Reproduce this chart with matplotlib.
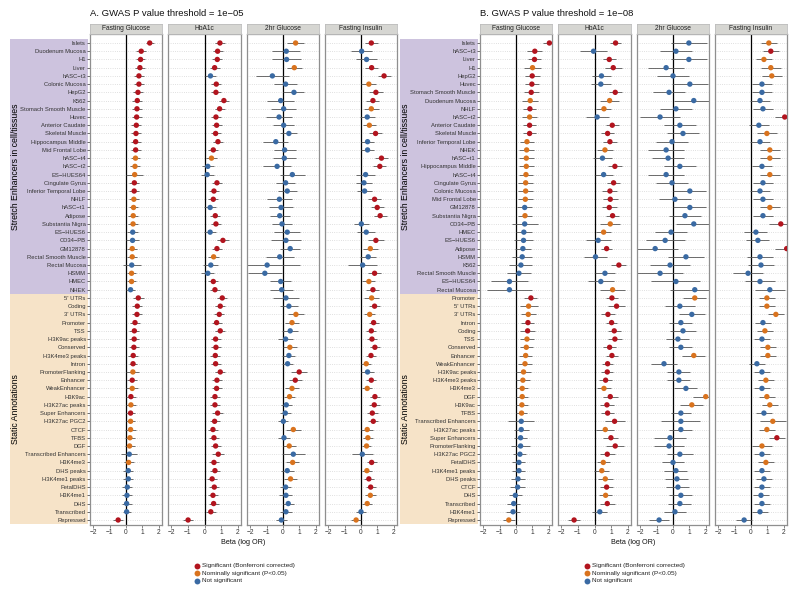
import matplotlib
matplotlib.use('Agg')
import matplotlib.pyplot as plt
import numpy as np

plt.rcParams['font.family'] = ['Liberation Sans', 'DejaVu Sans']

# ---------------- data ----------------
traits = ["Fasting Glucose", "HbA1c", "2hr Glucose", "Fasting Insulin"]
titles = ["A. GWAS P value threshold = 1e\u221205", "B. GWAS P value threshold = 1e\u221208"]
group_names = ["Stretch Enhancers in cell/tissues", "Static Annotations"]
n_stretch = 31

labels_A = ["Islets", "Duodenum Mucosa", "H1", "Liver", "hASC\u2212t3", "Colonic Mucosa", "HepG2", "K562",
            "Stomach Smooth Muscle", "Huvec", "Anterior Caudate", "Skeletal Muscle", "Hippocampus Middle",
            "Mid Frontal Lobe", "hASC\u2212t4", "hASC\u2212t2", "ES\u2212HUES64", "Cingulate Gyrus",
            "Inferior Temporal Lobe", "NHLF", "hASC\u2212t1", "Adipose", "Substantia Nigra", "ES\u2212HUES6",
            "CD34\u2212PB", "GM12878", "Rectal Smooth Muscle", "Rectal Mucosa", "HSMM", "HMEC", "NHEK",
            "5' UTRs", "Coding", "3' UTRs", "Promoter", "TSS", "H3K9ac peaks", "Conserved", "H3K4me3 peaks",
            "Intron", "PromoterFlanking", "Enhancer", "WeakEnhancer", "H3K9ac", "H3K27ac peaks",
            "Super Enhancers", "H3K27ac PGC2", "CTCF", "TFBS", "DGF", "Transcribed Enhancers", "H3K4me3",
            "DHS peaks", "H3K4me1 peaks", "FetalDHS", "H3K4me1", "DHS", "Transcribed", "Repressed"]

labels_B = ["Islets", "hASC\u2212t3", "Liver", "H1", "HepG2", "Huvec", "Stomach Smooth Muscle", "Duodenum Mucosa",
            "NHLF", "hASC\u2212t2", "Anterior Caudate", "Skeletal Muscle", "Inferior Temporal Lobe", "NHEK",
            "hASC\u2212t1", "Hippocampus Middle", "hASC\u2212t4", "Cingulate Gyrus", "Colonic Mucosa",
            "Mid Frontal Lobe", "GM12878", "Substantia Nigra", "CD34\u2212PB", "HMEC", "ES\u2212HUES6", "Adipose",
            "HSMM", "K562", "Rectal Smooth Muscle", "ES\u2212HUES64", "Rectal Mucosa",
            "Promoter", "5' UTRs", "3' UTRs", "Intron", "Coding", "TSS", "Conserved", "Enhancer", "WeakEnhancer",
            "H3K9ac peaks", "H3K4me3 peaks", "H3K4me3", "DGF", "H3K9ac", "TFBS", "Transcribed Enhancers",
            "H3K27ac peaks", "Super Enhancers", "PromoterFlanking", "H3K27ac PGC2", "FetalDHS", "H3K4me1 peaks",
            "DHS peaks", "CTCF", "DHS", "Transcribed", "H3K4me1", "Repressed"]

# Panel A -- Fasting Glucose
beta_A_fg = [1.45, 0.93, 0.89, 0.85, 0.79, 0.79, 0.73, 0.69, 0.67, 0.65, 0.63, 0.61, 0.59, 0.59, 0.58, 0.55,
             0.53, 0.51, 0.50, 0.48, 0.46, 0.44, 0.43, 0.41, 0.40, 0.38, 0.38, 0.35, 0.34, 0.34, 0.28,
             0.75, 0.69, 0.67, 0.55, 0.51, 0.50, 0.48, 0.44, 0.43, 0.42, 0.38, 0.38, 0.30, 0.30, 0.28, 0.28,
             0.28, 0.24, 0.22, 0.20, 0.16, 0.14, 0.14, 0.08, 0.06, 0.04, 0.04, -0.48]
hw_A_fg = [0.25, 0.3, 0.3, 0.3, 0.3, 0.3, 0.3, 0.3, 0.3, 0.3, 0.3, 0.3, 0.3, 0.3, 0.3, 0.3, 0.5, 0.3, 0.3, 0.3,
           0.3, 0.3, 0.3, 0.35, 0.4, 0.3, 0.3, 0.55, 0.3, 0.3, 0.3,
           0.35, 0.3, 0.3, 0.3, 0.3, 0.3, 0.3, 0.3, 0.25, 0.4, 0.3, 0.35, 0.3, 0.3, 0.3, 0.3, 0.35, 0.3, 0.3,
           0.5, 0.3, 0.3, 0.3, 0.3, 0.3, 0.3, 0.25, 0.3]
sig_A_fg = "RRRRRRRRRRRRRROOORROOOOBBOOBOOB" + "RRRRRRRRR" + "OROROR" + "OOOO" + "B" + "O" + "BBBBBB" + "R"

# Panel A -- HbA1c
beta_A_hb = [0.93, 0.79, 0.77, 0.61, 0.36, 0.71, 0.69, 1.17, 0.91, 0.69, 0.73, 0.67, 0.81, 0.53, 0.42, 0.20,
             0.16, 0.75, 0.57, 0.53, 0.34, 0.65, 0.69, 0.34, 1.11, 0.75, 0.55, 0.38, 0.20, 0.53, 0.63,
             1.07, 0.95, 0.89, 0.73, 0.95, 0.67, 0.69, 0.65, 0.67, 0.95, 0.75, 0.73, 0.63, 0.63, 0.79, 0.61,
             0.51, 0.57, 0.67, 0.83, 0.57, 0.63, 0.46, 0.59, 0.51, 0.55, 0.38, -0.99]
hw_A_hb = [0.3, 0.3, 0.3, 0.3, 0.35, 0.3, 0.3, 0.3, 0.3, 0.3, 0.3, 0.3, 0.3, 0.3, 0.35, 0.35, 0.4, 0.3, 0.3, 0.3,
           0.35, 0.3, 0.3, 0.35, 0.35, 0.3, 0.35, 0.45, 0.4, 0.3, 0.3,
           0.3, 0.3, 0.3, 0.3, 0.3, 0.3, 0.3, 0.3, 0.3, 0.3, 0.3, 0.3, 0.3, 0.3, 0.35, 0.3, 0.3, 0.3, 0.3,
           0.35, 0.3, 0.3, 0.3, 0.3, 0.3, 0.3, 0.3, 0.3]
sig_A_hb = "RRRRBRRRRRRRRROBBRRRBRRBRROBBRR" + "R" * 28

# Panel A -- 2hr Glucose
beta_A_2h = [0.77, 0.20, 0.22, 0.69, -0.65, 0.16, 0.67, -0.14, 0.04, -0.24, 0.04, 0.36, -0.44, 0.10, 0.08,
             -0.36, 0.57, 0.16, 0.26, -0.22, -0.12, -0.20, -0.06, 0.26, 0.18, 0.44, -0.20, -0.97, -1.11,
             -0.14, -0.08,
             0.18, 0.36, 0.79, 0.55, 0.44, 0.16, 0.42, 0.36, 0.28, 0.99, 0.75, 0.55, 0.40, 0.20, 0.14, 0.02,
             0.63, 0.06, 0.38, 0.63, 0.59, 0.26, 0.46, 0.16, 0.18, 0.32, 0.18, -0.10]
hw_A_2h = [0.5, 0.85, 0.9, 0.45, 1.0, 0.72, 0.64, 0.82, 0.75, 0.79, 0.64, 0.52, 0.76, 0.68, 0.7, 0.85, 0.75,
           0.58, 0.58, 0.75, 0.72, 0.62, 0.62, 0.8, 0.92, 0.62, 0.85, 2.0, 1.05, 0.65, 0.7,
           0.77, 0.55, 0.5, 0.45, 0.5, 0.45, 0.45, 0.4, 0.35, 0.5, 0.4, 0.45, 0.35, 0.35, 0.35, 0.3, 0.45,
           0.35, 0.4, 0.7, 0.4, 0.4, 0.4, 0.35, 0.4, 0.35, 0.35, 0.35]
sig_A_2h = "OBBO" + "B" * 27 + "BBOOBBOBBRROOBBBOBOBOBOBBBBB"

# Panel A -- Fasting Insulin
beta_A_fi = [0.63, 0.04, 0.34, 0.65, 1.41, 0.48, 0.91, 0.73, 0.63, 0.38, 0.51, 0.89, 0.40, 0.40, 1.25, 1.15,
             0.28, 0.18, 0.22, 0.83, 0.99, 1.17, 0.02, 0.32, 0.91, 0.57, 0.44, 0.10, 0.83, 0.48, 0.73,
             0.65, 0.83, 0.53, 0.77, 0.63, 0.67, 0.85, 0.61, 0.32, 0.40, 0.63, 0.38, 0.85, 0.81, 0.69, 0.75,
             0.38, 0.42, 0.34, 0.08, 0.65, 0.36, 0.48, 0.59, 0.57, 0.38, 0.00, -0.30]
hw_A_fi = [0.4, 0.65, 0.65, 0.4, 0.4, 0.45, 0.45, 0.4, 0.45, 0.45, 0.4, 0.4, 0.4, 0.4, 0.4, 0.4, 0.6, 0.5,
           0.45, 0.4, 0.4, 0.4, 0.45, 0.55, 0.5, 0.45, 0.5, 0.9, 0.4, 0.4, 0.4,
           0.45, 0.35, 0.35, 0.3, 0.3, 0.3, 0.3, 0.3, 0.3, 0.4, 0.3, 0.3, 0.3, 0.35, 0.35, 0.3, 0.35, 0.3,
           0.3, 0.65, 0.3, 0.3, 0.3, 0.3, 0.35, 0.3, 0.3, 0.3]
sig_A_fi = "RBBRRORROBORBBRRBBBRRRBBROBBROR" + "ORORRRRROBRORRRROOOBRORROOBO"

# Panel B -- Fasting Glucose
beta_B_fg = [2.04, 1.15, 1.13, 1.01, 0.99, 0.97, 0.93, 0.87, 0.85, 0.83, 0.83, 0.83, 0.67, 0.65, 0.63, 0.63,
             0.61, 0.59, 0.59, 0.57, 0.53, 0.55, 0.53, 0.48, 0.46, 0.42, 0.38, 0.30, 0.18, -0.40, -0.40,
             0.91, 0.77, 0.75, 0.73, 0.71, 0.67, 0.63, 0.59, 0.55, 0.46, 0.42, 0.38, 0.38, 0.36, 0.34, 0.32,
             0.32, 0.28, 0.28, 0.24, 0.18, 0.18, 0.12, 0.10, -0.04, -0.14, -0.18, -0.44]
hw_B_fg = [0.4, 0.45, 0.4, 0.5, 0.45, 0.45, 0.45, 0.5, 0.4, 0.45, 0.4, 0.4, 0.45, 0.45, 0.45, 0.45, 0.45, 0.45,
           0.45, 0.45, 0.45, 0.45, 0.8, 0.5, 0.6, 0.5, 0.6, 0.7, 0.75, 1.15, 1.4,
           0.4, 0.55, 0.45, 0.4, 0.45, 0.4, 0.4, 0.4, 0.45, 0.45, 0.45, 0.35, 0.35, 0.35, 0.35, 0.8, 0.45,
           0.4, 0.6, 0.4, 0.4, 0.4, 0.45, 0.45, 0.4, 0.4, 0.45, 0.35]
sig_B_fg = "RRRORRRORORROOOOOOOOBOBBBBBBBBB" + "ROORROOOOOOOOOOBBBBBBBBBBBBO"

# Panel B -- HbA1c
beta_B_hb = [1.27, -0.06, 0.89, 1.13, 0.42, 0.38, 1.25, 0.91, 0.57, 0.16, 1.07, 0.79, 0.93, 0.63, 0.48, 1.23,
             0.55, 1.15, 0.93, 0.95, 0.89, 1.09, 0.95, 0.55, 0.22, 0.73, 0.06, 1.47, 0.63, 0.38, 1.09,
             1.05, 1.33, 0.81, 1.03, 1.19, 1.23, 0.91, 1.05, 0.79, 0.77, 0.67, 0.57, 0.95, 0.75, 0.79, 1.21,
             0.65, 0.99, 1.25, 0.77, 0.53, 0.44, 0.65, 0.73, 0.67, 0.77, 0.32, -1.23]
hw_B_hb = [0.35, 0.8, 0.4, 0.5, 0.6, 0.6, 0.4, 0.55, 0.45, 0.7, 0.4, 0.4, 0.4, 0.5, 0.6, 0.4, 0.55, 0.4, 0.45,
           0.45, 0.45, 0.4, 0.6, 0.45, 0.75, 0.35, 0.7, 0.45, 0.6, 0.8, 0.75,
           0.35, 0.5, 0.4, 0.35, 0.4, 0.4, 0.4, 0.35, 0.35, 0.35, 0.4, 0.4, 0.45, 0.4, 0.4, 0.6, 0.55, 0.45,
           0.55, 0.45, 0.4, 0.45, 0.45, 0.4, 0.4, 0.45, 0.45, 0.35]
sig_B_hb = "RBRRBBROOBRRROBRBRRRRROOBRBRBBO" + "RRRRRRRRRRR" + "O" + "RRRR" + "O" + "RRR" + "OOO" + "R" + "O" + "R" + "B" + "R"

# Panel B -- 2hr Glucose
beta_B_2h = [0.97, 0.18, 0.97, -0.42, 0.00, 1.03, -0.24, 1.27, 0.18, -0.79, 0.42, 0.61, -0.06, -0.42, -0.30,
             0.42, -0.42, -0.06, 1.03, 0.12, 1.03, 0.73, 1.27, -0.12, -0.48, -1.09, 0.79, -0.18, -0.79, 0.18,
             1.33,
             1.33, 0.42, 1.15, 0.48, 0.61, 0.30, 0.48, 1.27, -0.55, 0.36, 0.36, 0.79, 2.00, 1.15, 0.48, 0.48,
             0.48, -0.18, -0.24, 0.42, 0.00, 0.18, 0.24, 0.30, 0.48, 0.42, 0.12, -0.85]
hw_B_2h = [1.1, 1.0, 1.1, 1.1, 1.0, 1.1, 1.0, 1.2, 1.0, 1.2, 1.0, 1.0, 1.0, 1.1, 1.0, 1.0, 1.1, 1.0, 1.0, 1.0,
           1.0, 1.0, 1.1, 1.0, 1.2, 1.4, 1.1, 1.2, 1.4, 1.5, 1.5,
           0.7, 0.9, 0.8, 0.7, 0.8, 0.7, 0.7, 0.7, 0.8, 0.7, 0.7, 0.7, 0.8, 0.7, 0.6, 1.2, 0.7, 1.0, 0.9,
           0.8, 0.7, 0.7, 0.7, 0.7, 0.7, 0.7, 0.7, 0.6]
sig_B_2h = "B" * 31 + "OBBBBBBOBBBBOOBBBBBBBBBBBBBB"

# Panel B -- Fasting Insulin
beta_B_fi = [1.09, 1.21, 0.79, 1.21, 1.27, 0.67, 0.67, 0.55, 0.73, 2.06, 0.48, 0.97, 0.55, 1.15, 1.15, 0.67,
             1.15, 0.73, 0.55, 0.73, 1.15, 0.73, 1.82, 0.30, 0.42, 2.18, 0.55, 0.61, -0.18, 0.55, 1.15,
             0.97, 0.97, 1.52, 0.73, 0.85, 0.67, 1.03, 1.03, 0.36, 0.67, 0.91, 0.67, 0.97, 1.15, 0.79, 1.33,
             0.97, 1.58, 0.67, 0.67, 0.91, 0.67, 0.79, 0.67, 0.61, 0.67, 0.55, -0.42]
hw_B_fi = [0.5, 0.5, 0.5, 0.6, 0.6, 0.6, 0.6, 0.6, 0.6, 0.6, 0.6, 0.6, 0.6, 0.6, 0.6, 0.6, 0.6, 0.6, 0.6, 0.6,
           0.6, 0.6, 0.7, 0.7, 0.7, 0.7, 0.8, 0.8, 0.9, 0.9, 0.9,
           0.5, 0.5, 0.5, 0.5, 0.5, 0.5, 0.5, 0.5, 0.5, 0.5, 0.5, 0.5, 0.5, 0.5, 0.5, 0.8, 0.5, 0.5, 0.6,
           0.5, 0.5, 0.5, 0.5, 0.5, 0.5, 0.5, 0.5, 0.5]
sig_B_fi = "OROOOBBBBRBOBOOBOBBBOBRBBRBBBBB" + "OOOBOBOOBBOBOOBOOROBOBBBBBBB"

legend_labels = ["Significant (Bonferroni corrected)", "Nominally significant (P<0.05)", "Not significant"]
xticks = [-2, -1, 0, 1, 2]

# ---------------- styling ----------------
COL = {'R': '#B2141E', 'O': '#D9731E', 'B': '#3A6AA3'}
PURPLE = '#CDC3DE'
TAN = '#F6E3C8'
W, H = 800, 597
fig = plt.figure(figsize=(8, 5.97), dpi=100)


def ax_px(x0, y0, x1, y1, **kw):
    return fig.add_axes([x0 / W, 1 - y1 / H, (x1 - x0) / W, (y1 - y0) / H], **kw)


ROW0, ROWH = 43.0, 8.224
PT, PB = 34.0, 524.5
ylo = (PB - ROW0) / ROWH
yhi = (PT - ROW0) / ROWH

panels = [
    dict(title=titles[0], labels=labels_A, x0=10, facets=[(90, 162), (168, 241), (247, 319), (325, 397)],
         data=[(beta_A_fg, hw_A_fg, sig_A_fg), (beta_A_hb, hw_A_hb, sig_A_hb),
               (beta_A_2h, hw_A_2h, sig_A_2h), (beta_A_fi, hw_A_fi, sig_A_fi)]),
    dict(title=titles[1], labels=labels_B, x0=400, facets=[(480, 552), (558, 631), (637, 709), (715, 787)],
         data=[(beta_B_fg, hw_B_fg, sig_B_fg), (beta_B_hb, hw_B_hb, sig_B_hb),
               (beta_B_2h, hw_B_2h, sig_B_2h), (beta_B_fi, hw_B_fi, sig_B_fi)]),
]

for P in panels:
    n = len(P['labels'])
    ypos = np.arange(n)
    lab = ax_px(P['x0'], PT, P['facets'][0][0] - 2, PB)
    lab.set_xlim(0, 1)
    lab.set_ylim(ylo, yhi)
    lab.axhspan(-0.5, n_stretch - 0.5, color=PURPLE, lw=0)
    lab.axhspan(n_stretch - 0.5, n - 0.5, color=TAN, lw=0)
    lab.axis('off')
    lab.text(0.075, (n_stretch - 1) / 2, group_names[0], rotation=90, ha='center', va='center', fontsize=6.3)
    lab.text(0.075, n_stretch + (n - n_stretch - 1) / 2, group_names[1], rotation=90, ha='center',
             va='center', fontsize=6.3)

    for k, ((fx0, fx1), (beta, hw, sig)) in enumerate(zip(P['facets'], P['data'])):
        ax = ax_px(fx0, PT, fx1, PB)
        ax.set_xlim(-2.2, 2.2)
        ax.set_ylim(ylo, yhi)
        for y in ypos:
            ax.axhline(y, color='#C4C4C4', lw=0.5, ls=(0, (1, 2.2)), zorder=0)
        ax.axvline(0, color='black', lw=0.9, zorder=1)
        b = np.array(beta, dtype=float)
        h = np.array(hw, dtype=float)
        ax.hlines(ypos, b - h, b + h, color='#555555', lw=0.6, zorder=2)
        ax.scatter(b, ypos, s=15, c=[COL[c] for c in sig], lw=0, zorder=3, clip_on=True)
        for sp in ax.spines.values():
            sp.set_color('#8F8F8F')
            sp.set_linewidth(0.9)
        ax.set_xticks(xticks)
        ax.set_xticklabels([f"{t}".replace('-', '\u2212') for t in xticks], fontsize=4.8, color='#333333')
        ax.tick_params(axis='x', length=2, width=0.5, pad=1.5, color='#555555')
        if k == 0:
            ax.set_yticks(ypos)
            ax.set_yticklabels(P['labels'], fontsize=4.2, color='#333333')
            ax.tick_params(axis='y', length=2, width=0.5, pad=1, color='#333333')
        else:
            ax.set_yticks([])
        st = ax_px(fx0, 23.5, fx1, 33.5)
        st.set_facecolor('#D6D6D2')
        st.set_xticks([])
        st.set_yticks([])
        for sp in st.spines.values():
            sp.set_color('#BDBDBD')
            sp.set_linewidth(0.6)
        st.text(0.5, 0.5, traits[k], ha='center', va='center', fontsize=4.8, color='#222222',
                transform=st.transAxes)

ov = fig.add_axes([0, 0, 1, 1])
ov.set_xlim(0, W)
ov.set_ylim(H, 0)
ov.axis('off')
ov.patch.set_alpha(0)
for P in panels:
    fx0 = P['facets'][0][0]
    fx1 = P['facets'][-1][1]
    cx = (fx0 + fx1) / 2
    ov.text(fx0, 14, P['title'], ha='left', va='center', fontsize=6.8, color='#111111')
    ov.text(cx, 543, "Beta (log OR)", ha='center', va='center', fontsize=5.2, color='#111111')
    for j, (lbl, c) in enumerate(zip(legend_labels, ['R', 'O', 'B'])):
        yy = 565.5 + j * 7.7
        ov.scatter([cx - 46.5], [yy], s=18, c=COL[c], lw=0)
        ov.text(cx - 41, yy, lbl, ha='left', va='center', fontsize=4.6, color='#222222')

fig.savefig('out.png', dpi=100)
